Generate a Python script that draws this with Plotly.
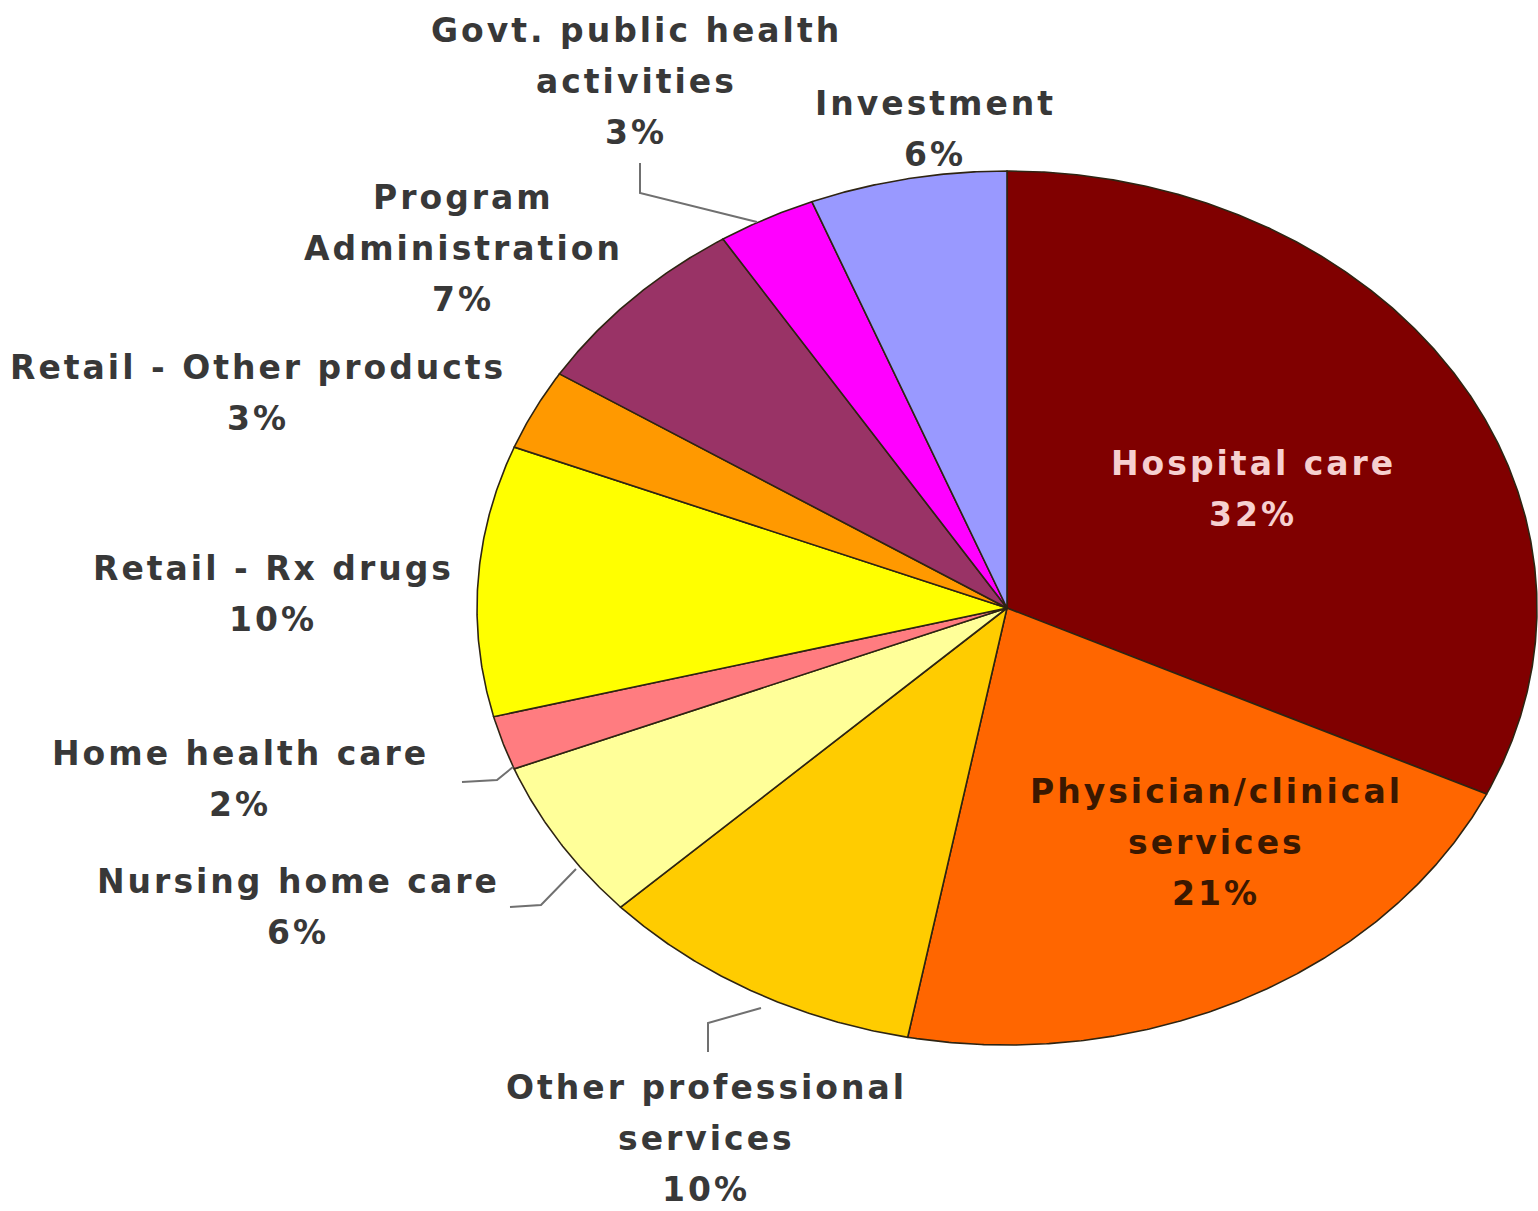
import numpy as np
import plotly.graph_objects as go

# National health expenditure shares (percent)
categories = [
    "Hospital care",
    "Physician/clinical services",
    "Other professional services",
    "Nursing home care",
    "Home health care",
    "Retail - Rx drugs",
    "Retail - Other products",
    "Program Administration",
    "Govt. public health activities",
    "Investment",
]
shares = [32, 21, 10, 6, 2, 10, 3, 7, 3, 6]

# How each category name is broken over lines in its label
label_lines = [
    ["Hospital care"],
    ["Physician/clinical", "services"],
    ["Other professional", "services"],
    ["Nursing home care"],
    ["Home health care"],
    ["Retail - Rx drugs"],
    ["Retail - Other products"],
    ["Program", "Administration"],
    ["Govt. public health", "activities"],
    ["Investment"],
]

# ---- styling / layout constants ----
W, H = 1538, 1211
slice_colors = ["#800000", "#FF6600", "#FFCC00", "#FFFF99", "#FF7C80",
                "#FFFF00", "#FF9900", "#993366", "#FF00FF", "#9999FF"]
label_colors = ["#F6D0D0", "#3A1800", "#383838", "#383838", "#383838",
                "#383838", "#383838", "#383838", "#383838", "#383838"]
# centre x and first-line y of each label block (pixel space)
label_pos = [
    (1253, 463), (1216, 791), (706, 1087), (298, 881), (240, 753),
    (273, 568), (258, 367), (463, 197), (636, 30), (935, 103),
]
line_gap = 51
font_family = "DejaVu Sans"
font_size = 33
font_weight = "bold"
letter_spacing = "3px"

# pie ellipse (pixel space, y downward)
cx, cy, rx, ry = 1007, 608, 530, 437

# leader lines for the outside labels
leaders = [
    [(640, 163), (640, 193), (757, 222)],
    [(462, 782), (497, 780), (513, 767)],
    [(510, 907), (541, 905), (576, 869)],
    [(708, 1052), (708, 1023), (761, 1008)],
]

fig = go.Figure()

total = float(sum(shares))
start = 0.0
for name, val, col in zip(categories, shares, slice_colors):
    sweep = 360.0 * val / total
    theta = np.radians(np.linspace(start, start + sweep, max(int(sweep * 4), 8)))
    xs = np.concatenate([[cx], cx + rx * np.sin(theta), [cx]])
    ys = np.concatenate([[cy], cy - ry * np.cos(theta), [cy]])
    fig.add_trace(go.Scatter(
        x=xs, y=ys, mode="lines", fill="toself", fillcolor=col,
        line=dict(color="#2e2412", width=1.6), name=name,
        hoverinfo="name", showlegend=False,
    ))
    start += sweep

for pts in leaders:
    path = "M " + " L ".join(f"{x},{y}" for x, y in pts)
    fig.add_shape(type="path", path=path, xref="x", yref="y",
                  line=dict(color="#707070", width=2))

for lines, val, (lx, ly), tcol in zip(label_lines, shares, label_pos, label_colors):
    for i, txt in enumerate(lines + [f"{val}%"]):
        fig.add_annotation(
            x=lx, y=ly + i * line_gap, xref="x", yref="y",
            text=f'<span style="letter-spacing:{letter_spacing}">{txt}</span>',
            showarrow=False, xanchor="center", yanchor="middle",
            font=dict(family=font_family, size=font_size, color=tcol,
                      weight=font_weight),
        )

fig.update_layout(
    width=W, height=H, autosize=False,
    margin=dict(l=0, r=0, t=0, b=0),
    paper_bgcolor="white", plot_bgcolor="white",
    xaxis=dict(range=[0, W], visible=False, fixedrange=True),
    yaxis=dict(range=[H, 0], visible=False, fixedrange=True),
    showlegend=False,
)

fig.write_html("out.html")
